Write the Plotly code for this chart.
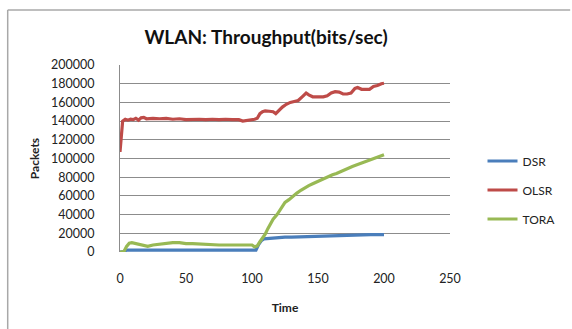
import plotly.graph_objects as go

# ---- data ----
olsr_t = [0, 1, 2, 4, 6, 8, 10, 12, 14, 16, 18, 20, 25, 30, 35, 40, 45, 50, 55, 60, 65, 70, 75, 80, 85, 90,
          93, 96, 100, 102, 104, 106, 108, 110, 113, 116, 118, 120, 123, 126, 129, 132, 135, 138, 141, 143,
          146, 150, 154, 157, 160, 163, 166, 169, 172, 175, 178, 180, 183, 186, 189, 192, 195, 198, 200]
olsr_v = [107000, 125000, 140000, 142000, 141000, 142000, 141500, 143000, 141000, 143500, 144000, 142500,
          143000, 142500, 143000, 142000, 142500, 141500, 142000, 142000, 141500, 142000, 141500, 142000,
          141500, 141500, 140000, 140500, 142000, 142000, 143000, 148000, 150000, 151000, 150500, 150000,
          148000, 151000, 155000, 158000, 160000, 161000, 162000, 166000, 170000, 168000, 166000, 166000,
          166000, 167000, 170000, 171500, 171000, 169000, 169000, 170000, 175000, 176000, 174000, 174000,
          174000, 177000, 178000, 180000, 180500]

tora_t = [0, 3, 5, 7, 9, 12, 15, 18, 21, 25, 30, 35, 40, 45, 50, 55, 60, 65, 70, 75, 80, 85, 90, 95, 100,
          102, 104, 106, 108, 110, 112, 114, 116, 119, 122, 125, 128, 131, 134, 137, 140, 143, 146, 149,
          152, 155, 158, 161, 164, 167, 170, 173, 176, 179, 182, 185, 188, 191, 194, 197, 200]
tora_v = [0, 500, 6000, 9500, 10000, 9000, 8000, 7000, 6000, 7500, 8500, 9500, 10000, 10000, 9000, 9000,
          8500, 8500, 7500, 7500, 7500, 7500, 7500, 7500, 7500, 5500, 6500, 11000, 15000, 19000, 25000,
          30000, 35000, 40000, 47000, 53000, 56000, 60000, 63000, 66000, 69000, 71000, 73000, 75000, 77000,
          79000, 81000, 82500, 84000, 86000, 88000, 90000, 91500, 93000, 94500, 96000, 97500, 99000,
          100500, 102500, 104000]

dsr_t = [0, 3, 5, 10, 20, 30, 40, 50, 60, 70, 80, 90, 100, 103, 105, 107, 109, 112, 115, 120, 125, 130,
         140, 150, 160, 170, 180, 185, 190, 200]
dsr_v = [0, 500, 2000, 2000, 2000, 2000, 2000, 2000, 2000, 2000, 2000, 2000, 2000, 2000, 8000, 12000,
         14000, 14500, 15000, 15000, 16000, 16000, 16500, 17000, 17500, 17500, 18000, 18500, 18500, 18500]

x_ticks = [0, 50, 100, 150, 200, 250]
y_ticks = list(range(0, 200001, 20000))

FONT = "Lato"
W, H = 572, 329
L, R, T, B = 120, 117, 65, 77
pw, ph = W - L - R, H - T - B

fig = go.Figure()
fig.add_trace(go.Scatter(x=dsr_t, y=dsr_v, mode="lines", name="DSR", legendgroup="a",
                         line=dict(color="#4a7ebb", width=3.2)))
fig.add_trace(go.Scatter(x=olsr_t, y=olsr_v, mode="lines", name="OLSR", legendgroup="b",
                         line=dict(color="#be4b48", width=3.2)))
fig.add_trace(go.Scatter(x=tora_t, y=tora_v, mode="lines", name="TORA", legendgroup="c",
                         line=dict(color="#98b954", width=3.2)))

def px_x(p):
    return (p - L) / pw

def px_y(p):
    return (H - B - p) / ph

fig.update_layout(
    width=W, height=H,
    margin=dict(l=L, r=R, t=T, b=B),
    paper_bgcolor="white", plot_bgcolor="white",
    font=dict(family=FONT, size=12, color="#222"),
    title=dict(text="<b>WLAN: Throughput(bits/sec)</b>", x=266 / W, xref="container", y=1 - 37 / H,
               yanchor="middle", xanchor="center", font=dict(family=FONT, size=19, color="#111")),
    xaxis=dict(range=[0, 250], tickvals=x_ticks, showgrid=False, zeroline=False, showline=False,
               ticks="", ticklabelstandoff=17, tickfont=dict(size=12.5, color="#222"),
               title=dict(text="<b>Time</b>", standoff=19, font=dict(size=12, color="#222"))),
    yaxis=dict(range=[0, 200000], tickvals=y_ticks, showgrid=True, gridcolor="#8c8c8c", gridwidth=1,
               zeroline=False, showline=True, linecolor="#8c8c8c", linewidth=1, ticks="",
               ticklabelstandoff=22, tickfont=dict(size=12.5, color="#222"), tickformat="d",
               title=dict(text="<b>Packets</b>", standoff=8, font=dict(size=12, color="#222"))),
    showlegend=True,
    legend=dict(x=px_x(488), y=px_y(190), xanchor="left", yanchor="middle",
                traceorder="grouped", tracegroupgap=10, font=dict(size=12, color="#222"),
                bgcolor="rgba(0,0,0,0)", itemwidth=30),
    shapes=[
        dict(type="line", xref="paper", yref="paper", x0=px_x(6), x1=px_x(W + 5), y0=px_y(10), y1=px_y(10),
             line=dict(color="#a8a8a8", width=1.5)),
        dict(type="line", xref="paper", yref="paper", x0=px_x(6), x1=px_x(6), y0=px_y(10), y1=px_y(H + 5),
             line=dict(color="#a8a8a8", width=1.5)),
    ],
)

fig.write_html("out.html")
